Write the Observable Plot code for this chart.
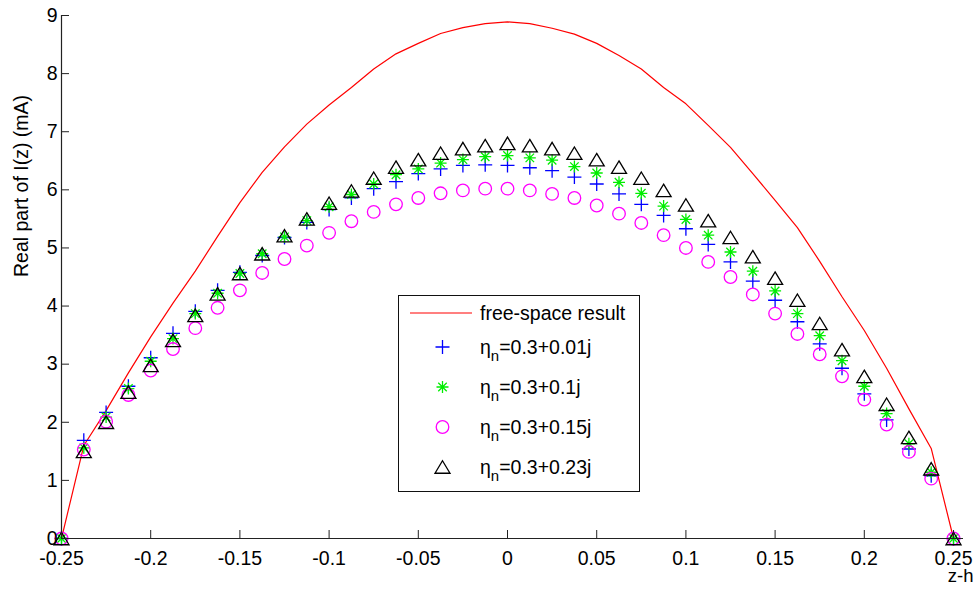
<!DOCTYPE html>
<html>
<head>
<meta charset="utf-8">
<script src="https://cdn.jsdelivr.net/npm/d3@7"></script>
<script src="https://cdn.jsdelivr.net/npm/@observablehq/plot@0.6"></script>
<style>
  html, body { margin: 0; padding: 0; background: #fff; }
  #wrap { position: relative; width: 978px; height: 590px; }
  #legend { position: absolute; left: 398px; top: 295px; width: 242px; height: 197px;
    box-sizing: border-box; border: 1.5px solid #111; background: #fff;
    font-family: "Liberation Sans", Arial, sans-serif; font-size: 19.5px; color: #000; }
  .row { position: absolute; left: 0; height: 0; }
  .row svg { position: absolute; left: 8px; top: -12px; overflow: visible; }
  .row .lab { position: absolute; left: 81px; top: -12px; line-height: 24px; white-space: nowrap; }
  .row .lab sub { font-size: 15px; vertical-align: -7px; line-height: 0; }
</style>
</head>
<body>
<div id="wrap"><div id="chart"></div><div id="legend"></div></div>
<script>
// ---- data ----
const z = [-0.25, -0.2375, -0.225, -0.2125, -0.2, -0.1875, -0.175, -0.1625, -0.15, -0.1375,
           -0.125, -0.1125, -0.1, -0.0875, -0.075, -0.0625, -0.05, -0.0375, -0.025, -0.0125,
           0, 0.0125, 0.025, 0.0375, 0.05, 0.0625, 0.075, 0.0875, 0.1, 0.1125,
           0.125, 0.1375, 0.15, 0.1625, 0.175, 0.1875, 0.2, 0.2125, 0.225, 0.2375, 0.25];

const freeSpace = [0, 1.6, 2.2, 2.85, 3.47, 4.05, 4.6, 5.2, 5.78, 6.3,
                   6.74, 7.13, 7.46, 7.76, 8.08, 8.34, 8.52, 8.69, 8.79, 8.86,
                   8.89, 8.86, 8.78, 8.68, 8.52, 8.31, 8.08, 7.76, 7.48, 7.11,
                   6.73, 6.28, 5.82, 5.35, 4.77, 4.16, 3.58, 2.93, 2.23, 1.55, 0];

const eta001 = [0, 1.69, 2.17, 2.62, 3.11, 3.53, 3.91, 4.27, 4.58, 4.87,
                5.18, 5.44, 5.66, 5.86, 6.02, 6.14, 6.28, 6.36, 6.42, 6.43,
                6.42, 6.38, 6.33, 6.22, 6.10, 5.93, 5.75, 5.56, 5.33, 5.06,
                4.76, 4.43, 4.10, 3.73, 3.35, 2.93, 2.49, 2.04, 1.54, 1.08, 0];

const eta01 = [0, 1.56, 2.09, 2.58, 3.05, 3.44, 3.87, 4.22, 4.56, 4.90,
               5.19, 5.47, 5.71, 5.92, 6.10, 6.26, 6.36, 6.46, 6.52, 6.57,
               6.59, 6.55, 6.51, 6.40, 6.29, 6.13, 5.94, 5.72, 5.49, 5.22,
               4.93, 4.60, 4.26, 3.87, 3.49, 3.06, 2.62, 2.15, 1.63, 1.14, 0];

const eta015 = [0, 1.53, 2.01, 2.47, 2.89, 3.26, 3.62, 3.97, 4.27, 4.57,
                4.81, 5.04, 5.26, 5.46, 5.62, 5.75, 5.86, 5.94, 5.99, 6.02,
                6.02, 5.99, 5.93, 5.86, 5.73, 5.59, 5.43, 5.22, 5.00, 4.76,
                4.50, 4.20, 3.87, 3.52, 3.17, 2.79, 2.39, 1.96, 1.49, 1.03, 0];

const eta023 = [0, 1.50, 2.00, 2.52, 2.98, 3.41, 3.84, 4.21, 4.56, 4.90,
                5.21, 5.50, 5.77, 5.98, 6.20, 6.39, 6.52, 6.63, 6.71, 6.76,
                6.80, 6.76, 6.71, 6.63, 6.52, 6.39, 6.20, 5.99, 5.74, 5.47,
                5.18, 4.85, 4.48, 4.10, 3.70, 3.25, 2.79, 2.31, 1.74, 1.20, 0];

const xTicks = [-0.25, -0.2, -0.15, -0.1, -0.05, 0, 0.05, 0.1, 0.15, 0.2, 0.25];
const xTickLabels = ["-0.25", "-0.2", "-0.15", "-0.1", "-0.05", "0", "0.05", "0.1", "0.15", "0.2", "0.25"];
const yTicks = [0, 1, 2, 3, 4, 5, 6, 7, 8, 9];

const lineLabel = "free-space result";
const etaLabels = ["0.3+0.01j", "0.3+0.1j", "0.3+0.15j", "0.3+0.23j"];
const yLabel = "Real part of I(z) (mA)";
const xLabel = "z-h";

// ---- symbols (MATLAB-like markers) ----
const rad = size => Math.sqrt(size / Math.PI);
const plusSym = { draw(c, s) { const r = rad(s); c.moveTo(-r, 0); c.lineTo(r, 0); c.moveTo(0, -r); c.lineTo(0, r); } };
const starSym = { draw(c, s) { const r = rad(s), d = r * 0.7071;
  c.moveTo(-r, 0); c.lineTo(r, 0); c.moveTo(0, -r); c.lineTo(0, r);
  c.moveTo(-d, -d); c.lineTo(d, d); c.moveTo(-d, d); c.lineTo(d, -d); } };
const circSym = { draw(c, s) { const r = rad(s); c.moveTo(r, 0); c.arc(0, 0, r, 0, 2 * Math.PI); } };
const triSym = { draw(c, s) { const r = rad(s), h = r * 0.83;
  c.moveTo(0, -h); c.lineTo(r, h); c.lineTo(-r, h); c.closePath(); } };

const series = [
  { vals: eta001, sym: plusSym, r: 7,   color: "#0000ff" },
  { vals: eta01,  sym: starSym, r: 6,   color: "#00ee00" },
  { vals: eta015, sym: circSym, r: 6.3, color: "#ff00ff" },
  { vals: eta023, sym: triSym,  r: 7.5, color: "#000000" }
];

const rows = vals => z.map((x, i) => ({ z: x, v: vals[i] }));
const font = "'Liberation Sans', Arial, Helvetica, sans-serif";

const chart = Plot.plot({
  width: 978,
  height: 590,
  marginLeft: 61,
  marginRight: 15,
  marginTop: 15,
  marginBottom: 52,
  style: { fontFamily: font, fontSize: "19.5px", background: "#fff", color: "#000", overflow: "visible" },
  x: { domain: [-0.25, 0.2556] },
  y: { domain: [0, 9] },
  marks: [
    Plot.line(rows(freeSpace), { x: "z", y: "v", stroke: "#ff0000", strokeWidth: 1.2 }),
    ...series.map(s => Plot.dot(rows(s.vals), { x: "z", y: "v", symbol: s.sym, r: s.r,
      stroke: s.color, fill: "none", strokeWidth: 1.3 })),
    Plot.ruleY([0], { stroke: "#222", strokeWidth: 1.2 }),
    Plot.ruleX([-0.25], { stroke: "#222", strokeWidth: 1.2 }),
    Plot.axisX({ ticks: xTicks, tickFormat: d => xTickLabels[xTicks.indexOf(d)], tickSize: -8, tickPadding: 21, label: null, stroke: "#222" }),
    Plot.axisY({ ticks: yTicks, tickFormat: d => String(d), tickSize: -8, tickPadding: 12, label: null, stroke: "#222" }),
    Plot.text([yLabel], { text: d => d, frameAnchor: "left", rotate: -90, dx: -40 }),
    Plot.text([xLabel], { text: d => d, frameAnchor: "bottom-right", textAnchor: "end", dx: 10, dy: 43, fontSize: 18.5 })
  ]
});
document.getElementById("chart").appendChild(chart);

// ---- legend ----
const legend = document.getElementById("legend");
const rowY = [17, 51, 91, 131, 171];
function addRow(y, drawFn, html) {
  const row = document.createElement("div");
  row.className = "row";
  row.style.top = y + "px";
  const svg = d3.create("svg").attr("width", 72).attr("height", 24);
  drawFn(svg);
  row.appendChild(svg.node());
  const lab = document.createElement("div");
  lab.className = "lab";
  lab.innerHTML = html;
  row.appendChild(lab);
  legend.appendChild(row);
}
addRow(rowY[0], svg => svg.append("line").attr("x1", 3).attr("x2", 65).attr("y1", 12).attr("y2", 12)
  .attr("stroke", "#ff0000").attr("stroke-width", 1.2), lineLabel);
series.forEach((s, i) => {
  addRow(rowY[i + 1], svg => svg.append("path")
    .attr("transform", "translate(35.5,12)")
    .attr("d", d3.symbol(s.sym, s.r * s.r * Math.PI)())
    .attr("fill", "none").attr("stroke", s.color).attr("stroke-width", 1.3),
    "η<sub>n</sub>=" + etaLabels[i]);
});
</script>
</body>
</html>
